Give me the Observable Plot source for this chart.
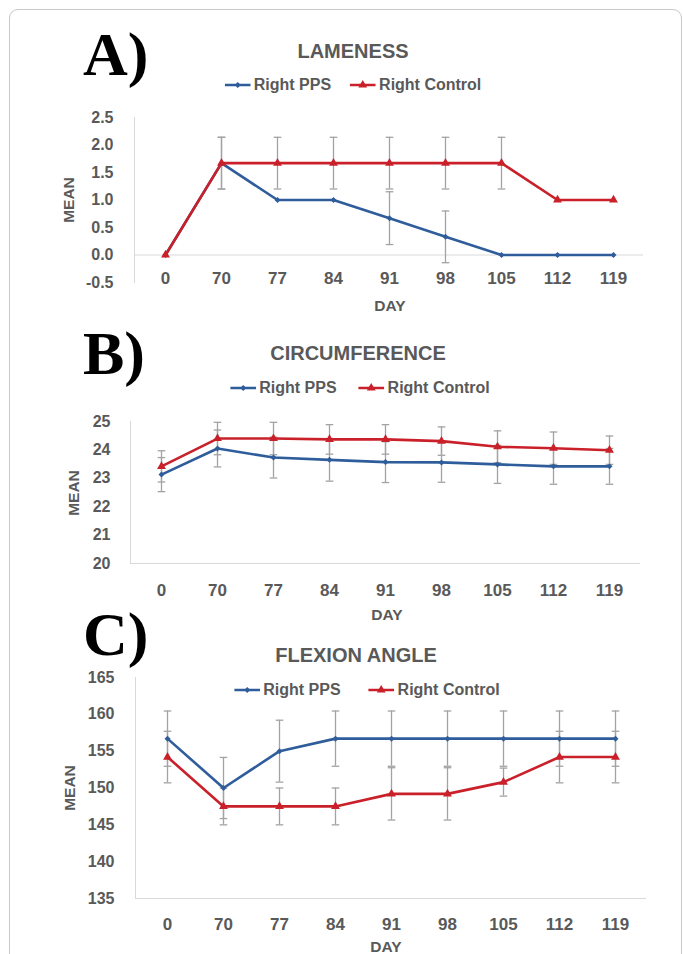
<!DOCTYPE html>
<html>
<head>
<meta charset="utf-8">
<script src="https://cdn.jsdelivr.net/npm/d3@7"></script>
<script src="https://cdn.jsdelivr.net/npm/@observablehq/plot@0.6"></script>
<style>
  html, body { margin: 0; padding: 0; background: #fff; }
  #page { position: relative; width: 683px; height: 954px; overflow: hidden; background: #fff;
          font-family: "Liberation Sans", Arial, sans-serif; color: #595959; }
  .frame { position: absolute; left: 9px; top: 9px; width: 671px; height: 1000px;
           border: 1.5px solid #c9c9c9; border-radius: 9px; }
  .t { position: absolute; line-height: 0; height: 0; white-space: nowrap; font-weight: bold; }
  .c { transform: translate(-50%, 0); }
  .panel { position: absolute; font-family: "Times New Roman", "Liberation Serif", serif; font-size: 62px; color: #000; }
  .title { font-size: 20px; }
  .axl { font-size: 15.5px; }
  .rot { transform: translate(-50%, 0) rotate(-90deg); }
  .legend { position: absolute; display: flex; align-items: center; transform: translate(-50%, -50%);
            font-weight: bold; font-size: 16px; white-space: nowrap; }
  .legend .item { display: flex; align-items: center; }
  .legend svg { margin-right: 3px; }
  .plot { position: absolute; left: 0; }
</style>
</head>
<body>
<div id="page">
  <div class="frame"></div>

  <div class="t panel" style="left:83px;top:54px">A)</div>
  <div class="t title c" style="left:353px;top:51px">LAMENESS</div>
  <div class="legend" id="legA" style="left:353px;top:85px"></div>
  <div class="t axl rot" style="left:69px;top:200px">MEAN</div>
  <div class="t axl c" style="left:390px;top:306px">DAY</div>

  <div class="t panel" style="left:83px;top:353px">B)</div>
  <div class="t title c" style="left:358px;top:353px">CIRCUMFERENCE</div>
  <div class="legend" id="legB" style="left:360px;top:388px"></div>
  <div class="t axl rot" style="left:74px;top:493px">MEAN</div>
  <div class="t axl c" style="left:387px;top:615px">DAY</div>

  <div class="t panel" style="left:83px;top:634px">C)</div>
  <div class="t title c" style="left:356px;top:655px">FLEXION ANGLE</div>
  <div class="t axl rot" style="left:70px;top:788px">MEAN</div>
  <div class="t axl c" style="left:386px;top:947px">DAY</div>

  <div class="plot" id="pA" style="top:100px"></div>
  <div class="plot" id="pB" style="top:400px"></div>
  <div class="plot" id="pC" style="top:665px"></div>
  <div class="legend" id="legC" style="left:367px;top:690px"></div>
</div>

<script>
// ---------------- data ----------------
const days = ["0", "70", "77", "84", "91", "98", "105", "112", "119"];
const seriesNames = ["Right PPS", "Right Control"];
const seriesColors = ["#2F5D9B", "#C9202A"];

const lamenessPPS     = [0, 1.67, 1.0, 1.0, 0.67, 0.33, 0, 0, 0];
const lamenessPPSErr  = [0, 0.47, 0, 0, 0.48, 0.47, 0, 0, 0];
const lamenessCtrl    = [0, 1.67, 1.67, 1.67, 1.67, 1.67, 1.67, 1.0, 1.0];
const lamenessCtrlErr = [0, 0.47, 0.47, 0.47, 0.47, 0.47, 0.47, 0, 0];
const lamenessTicks   = [-0.5, 0, 0.5, 1.0, 1.5, 2.0, 2.5];

const circPPS     = [23.13, 24.05, 23.73, 23.65, 23.57, 23.56, 23.49, 23.42, 23.42];
const circPPSErr  = [0.6, 0.65, 0.72, 0.75, 0.72, 0.7, 0.67, 0.63, 0.63];
const circCtrl    = [23.42, 24.4, 24.4, 24.37, 24.37, 24.31, 24.11, 24.06, 23.99];
const circCtrlErr = [0.55, 0.57, 0.57, 0.52, 0.52, 0.5, 0.56, 0.57, 0.5];
const circTicks   = [20, 21, 22, 23, 24, 25];

const flexPPS     = [156.7, 150.0, 155.0, 156.7, 156.7, 156.7, 156.7, 156.7, 156.7];
const flexPPSErr  = [3.75, 4.15, 4.2, 3.75, 3.75, 3.75, 3.75, 3.75, 3.75];
const flexCtrl    = [154.2, 147.5, 147.5, 147.5, 149.2, 149.2, 150.8, 154.2, 154.2];
const flexCtrlErr = [3.5, 2.5, 2.5, 2.5, 3.55, 3.55, 1.9, 3.5, 3.5];
const flexTicks   = [135, 140, 145, 150, 155, 160, 165];

// ---------------- helpers ----------------
const grey = "#d9d9d9";
const errColor = "#a3a3a3";
const capSymbol = {
  draw(ctx, size) { const w = Math.sqrt(size / Math.PI); ctx.moveTo(-w, 0); ctx.lineTo(w, 0); }
};

function rows(pps, ppsErr, ctrl, ctrlErr) {
  const out = [];
  days.forEach((d, i) => out.push({day: d, series: seriesNames[0], v: pps[i], e: ppsErr[i]}));
  days.forEach((d, i) => out.push({day: d, series: seriesNames[1], v: ctrl[i], e: ctrlErr[i]}));
  return out;
}

function chart(o) {
  const data = rows(o.pps, o.ppsErr, o.ctrl, o.ctrlErr);
  const withErr = data.filter(d => d.e > 0);
  return Plot.plot({
    width: 683,
    height: o.height,
    marginTop: o.marginTop,
    marginBottom: o.marginBottom,
    marginLeft: o.marginLeft,
    marginRight: o.marginRight,
    style: {fontFamily: "'Liberation Sans', Arial, sans-serif", fontWeight: "bold", color: "#595959",
            background: "transparent", overflow: "visible"},
    x: {type: "point", domain: days, padding: 0.5, label: null},
    y: {domain: o.yDomain, label: null},
    color: {domain: seriesNames, range: seriesColors},
    marks: [
      Plot.ruleY([o.base], {stroke: grey, strokeWidth: 1}),
      Plot.frame({anchor: "left", stroke: grey, strokeWidth: 1}),
      Plot.axisY({ticks: o.ticks, tickSize: 0, tickPadding: o.yPad, tickFormat: o.fmt, fontSize: 16, label: null}),
      Plot.axisX({tickSize: 0, tickPadding: o.xPad, fontSize: 17, label: null}),
      Plot.ruleX(withErr, {x: "day", y1: d => d.v - d.e, y2: d => d.v + d.e, stroke: errColor, strokeWidth: 1.3}),
      Plot.dot(withErr, {x: "day", y: d => d.v + d.e, symbol: capSymbol, r: 3.8, fill: "none", stroke: errColor, strokeWidth: 1.3}),
      Plot.dot(withErr, {x: "day", y: d => d.v - d.e, symbol: capSymbol, r: 3.8, fill: "none", stroke: errColor, strokeWidth: 1.3}),
      Plot.line(data, {x: "day", y: "v", z: "series", stroke: "series", strokeWidth: 2.6}),
      Plot.dot(data.filter(d => d.series === seriesNames[0]), {x: "day", y: "v", symbol: "diamond2", r: 2.7, fill: "series", stroke: null}),
      Plot.dot(data.filter(d => d.series === seriesNames[1]), {x: "day", y: "v", symbol: "triangle", r: 3.3, fill: "series", stroke: null})
    ]
  });
}

document.getElementById("pA").append(chart({
  pps: lamenessPPS, ppsErr: lamenessPPSErr, ctrl: lamenessCtrl, ctrlErr: lamenessCtrlErr,
  yDomain: [-0.5, 2.5], ticks: lamenessTicks, fmt: d => d.toFixed(1), base: 0,
  height: 202, marginTop: 17, marginBottom: 20, marginLeft: 134, marginRight: 40,
  yPad: 21, xPad: -11
}));

document.getElementById("pB").append(chart({
  pps: circPPS, ppsErr: circPPSErr, ctrl: circCtrl, ctrlErr: circCtrlErr,
  yDomain: [20, 25], ticks: circTicks, fmt: d => String(d), base: 20,
  height: 203, marginTop: 21, marginBottom: 40, marginLeft: 130, marginRight: 43,
  yPad: 20, xPad: 20
}));

document.getElementById("pC").append(chart({
  pps: flexPPS, ppsErr: flexPPSErr, ctrl: flexCtrl, ctrlErr: flexCtrlErr,
  yDomain: [135, 165], ticks: flexTicks, fmt: d => String(d), base: 135,
  height: 273, marginTop: 12, marginBottom: 40, marginLeft: 135, marginRight: 37,
  yPad: 21, xPad: 19
}));

// ---------------- legends ----------------
function legend(id, gap) {
  const el = document.getElementById(id);
  seriesNames.forEach((name, i) => {
    const item = document.createElement("div");
    item.className = "item";
    if (i > 0) item.style.marginLeft = gap + "px";
    const ns = "http://www.w3.org/2000/svg";
    const svg = document.createElementNS(ns, "svg");
    svg.setAttribute("width", 26); svg.setAttribute("height", 12);
    const line = document.createElementNS(ns, "line");
    line.setAttribute("x1", 0); line.setAttribute("x2", 26);
    line.setAttribute("y1", 6); line.setAttribute("y2", 6);
    line.setAttribute("stroke", seriesColors[i]); line.setAttribute("stroke-width", 2.6);
    svg.append(line);
    const m = document.createElementNS(ns, "path");
    m.setAttribute("d", i === 0 ? d3.symbol(d3.symbolSquare2 || d3.symbolDiamond2, 23)() : d3.symbol(d3.symbolTriangle, 34)());
    m.setAttribute("fill", seriesColors[i]);
    m.setAttribute("transform", i === 0 ? "translate(13,6) rotate(45)" : "translate(13,6)");
    svg.append(m);
    const txt = document.createElement("span");
    txt.textContent = name;
    item.append(svg, txt);
    el.append(item);
  });
}
legend("legA", 19);
legend("legB", 22);
legend("legC", 28);
</script>
</body>
</html>
